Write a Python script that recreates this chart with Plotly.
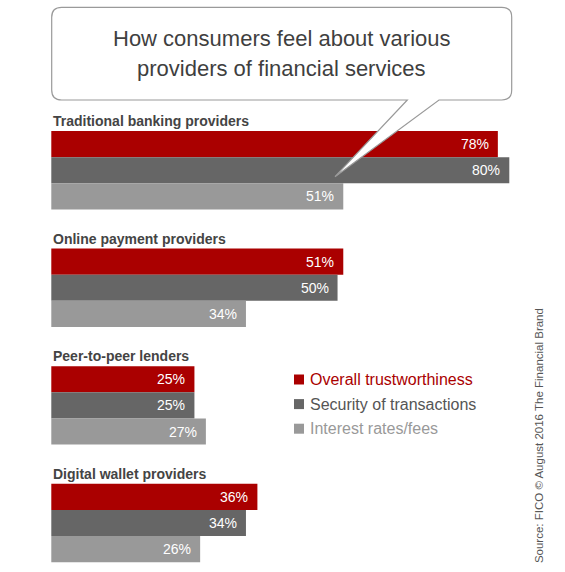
import plotly.graph_objects as go

# ---- data ----
groups = ["Traditional banking providers", "Online payment providers",
          "Peer-to-peer lenders", "Digital wallet providers"]
series = ["Overall trustworthiness", "Security of transactions", "Interest rates/fees"]
trust = [78, 51, 25, 36]
security = [80, 50, 25, 34]
rates = [51, 34, 27, 26]
title_lines = ["How consumers feel about various", "providers of financial services"]
source = "Source: FICO \u00a9 August 2016 The Financial Brand"

values = [trust, security, rates]
bar_colors = ["#aa0000", "#666666", "#999999"]
legend_text_colors = ["#aa0000", "#555555", "#999999"]

W, H = 565, 572
SANS = "Liberation Sans, Arial, sans-serif"

# layout geometry (pixels)
x0_px, px_per_pct = 51.3, 5.725
y0_px, unit_px = 131.0, 26.13
pitch = 4.5

def px(x):
    return x / W

def py(y):
    return 1 - y / H

fig = go.Figure()
for s, (name, vals, col) in enumerate(zip(series, values, bar_colors)):
    ys = [g * pitch + s + 0.5 for g in range(len(groups))]
    fig.add_trace(go.Bar(
        x=vals, y=ys, orientation="h", width=1.0, base=0,
        marker=dict(color=col, line=dict(width=0)),
        name=name, showlegend=False, hoverinfo="skip",
    ))

annotations = []
# value labels
for s, vals in enumerate(values):
    for g, v in enumerate(vals):
        annotations.append(dict(
            x=v, y=g * pitch + s + 0.5, xref="x", yref="y",
            text=f"{v}%", showarrow=False, xanchor="right", yanchor="middle",
            xshift=-7, font=dict(family=SANS, size=14, color="white"),
        ))
# group labels
for g, lab in enumerate(groups):
    annotations.append(dict(
        x=0, y=g * pitch - 0.38, xref="x", yref="y", text=f"<b>{lab}</b>",
        showarrow=False, xanchor="left", yanchor="middle", xshift=0,
        font=dict(family=SANS, size=14, color="#444444"),
    ))
# title lines
for i, (line, ymid) in enumerate(zip(title_lines, [38.0, 68.5])):
    annotations.append(dict(
        x=px(281.7), y=py(ymid), xref="paper", yref="paper", text=line,
        showarrow=False, xanchor="center", yanchor="middle",
        font=dict(family=SANS, size=22, color="#3f3f3f"),
    ))
# legend
shapes = []
for i, (name, col, tcol) in enumerate(zip(series, bar_colors, legend_text_colors)):
    yc = 379.5 + i * 24.6
    shapes.append(dict(type="rect", xref="paper", yref="paper",
                       x0=px(294), x1=px(304), y0=py(yc - 5), y1=py(yc + 5),
                       fillcolor=col, line=dict(width=0)))
    annotations.append(dict(
        x=px(308), y=py(yc), xref="paper", yref="paper", text=name,
        showarrow=False, xanchor="left", yanchor="middle",
        font=dict(family=SANS, size=16, color=tcol),
    ))
# source
annotations.append(dict(
    x=px(538.3), y=py(435.8), xref="paper", yref="paper", text=source,
    showarrow=False, textangle=-90, xanchor="center", yanchor="middle",
    font=dict(family=SANS, size=11.5, color="#555555"),
))

# speech bubble
L, R, T, B, r = 51.7, 511.7, 7.3, 100.0, 10.0
tb1, tb2, tip = 407.3, 439.0, (335.0, 176.7)
pts = [
    ("M", L + r, T), ("L", R - r, T), ("Q", R, T, R, T + r), ("L", R, B - r),
    ("Q", R, B, R - r, B), ("L", tb2, B), ("L", tip[0], tip[1]), ("L", tb1, B),
    ("L", L + r, B), ("Q", L, B, L, B - r), ("L", L, T + r), ("Q", L, T, L + r, T),
]
path = ""
for p in pts:
    cmd, coords = p[0], p[1:]
    xy = []
    for k in range(0, len(coords), 2):
        xy.append(f"{px(coords[k]):.5f},{py(coords[k+1]):.5f}")
    path += cmd + " ".join(xy) + " "
path += "Z"
shapes.append(dict(type="path", xref="paper", yref="paper", path=path,
                   fillcolor="white", line=dict(color="#9a9a9a", width=1.2),
                   layer="above"))

fig.update_layout(
    width=W, height=H, autosize=False,
    margin=dict(l=0, r=0, t=0, b=0, pad=0),
    paper_bgcolor="white", plot_bgcolor="white",
    barmode="overlay", showlegend=False,
    xaxis=dict(range=[-x0_px / px_per_pct, (W - x0_px) / px_per_pct],
               visible=False, fixedrange=True),
    yaxis=dict(range=[(H - y0_px) / unit_px, -y0_px / unit_px],
               visible=False, fixedrange=True),
    annotations=annotations, shapes=shapes,
)
fig.write_html(
    "out.html",
    config={"displayModeBar": False},
    post_script="document.body.style.margin='0';document.body.style.overflow='hidden';",
)
